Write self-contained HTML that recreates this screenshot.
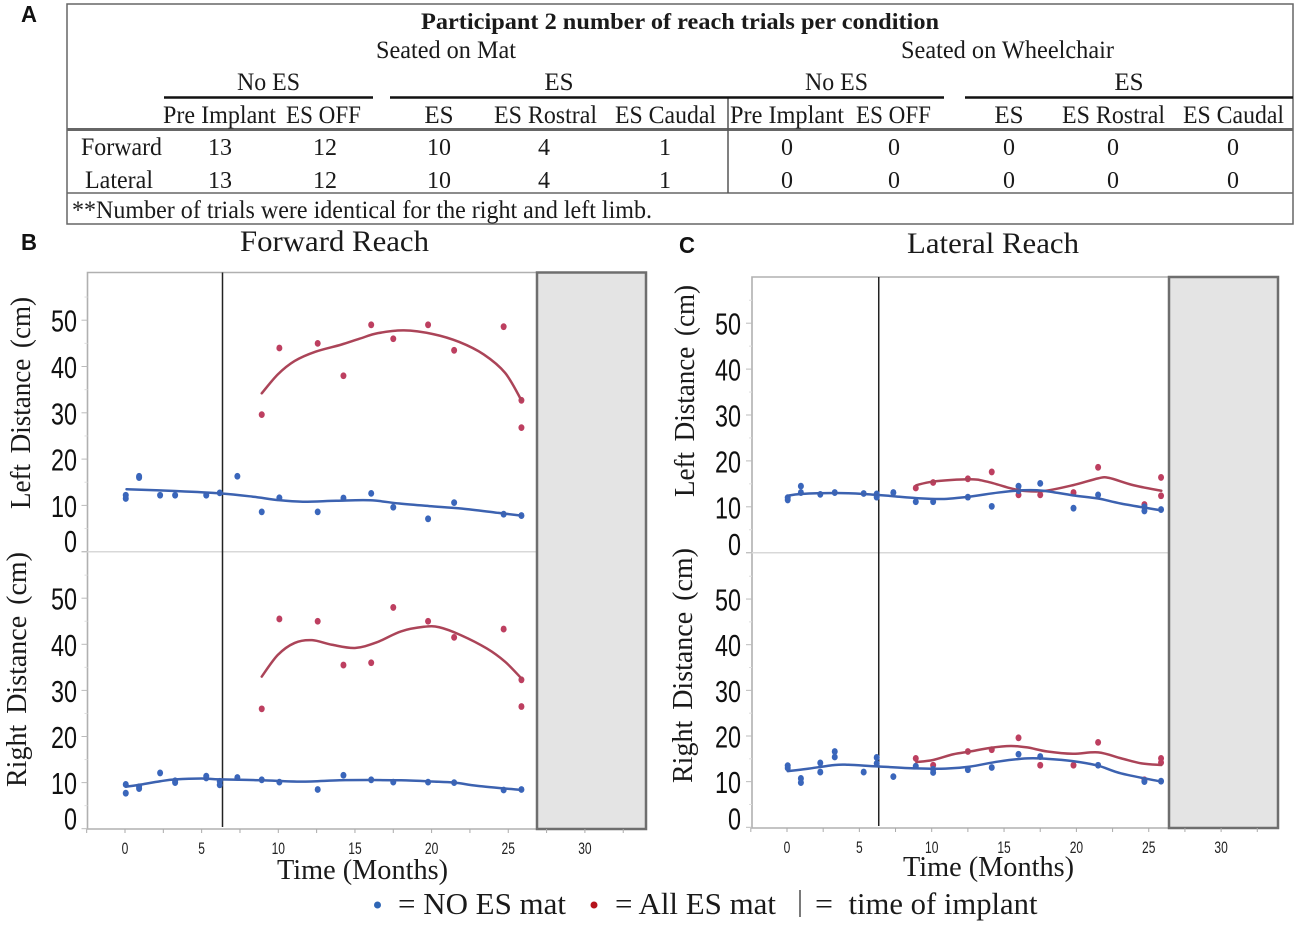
<!DOCTYPE html>
<html lang="en">
<head>
<meta charset="utf-8">
<title>Participant 2 reach trials</title>
<style>
html,body{margin:0;padding:0;background:#fff;width:1300px;height:926px;overflow:hidden}
svg{display:block;filter:blur(0.35px)}
.s{font-family:"Liberation Serif",serif;fill:#1a1a1a}
.t{font-size:25px}
.n{font-size:24px}
.c{text-anchor:middle}
.p{font-family:"Liberation Sans",sans-serif;fill:#111}
.w{word-spacing:4px}
</style>
</head>
<body>
<svg id="figure" xmlns="http://www.w3.org/2000/svg" width="1300" height="926" viewBox="0 0 1300 926">
  <rect x="0" y="0" width="1300" height="926" fill="#fff"/>

  <text class="p" x="21" y="22" font-size="23" font-weight="bold" textLength="16" lengthAdjust="spacingAndGlyphs">A</text>
  <text class="p" x="21" y="250" font-size="23" font-weight="bold" textLength="16" lengthAdjust="spacingAndGlyphs">B</text>
  <text class="p" x="679" y="253" font-size="23" font-weight="bold" textLength="16" lengthAdjust="spacingAndGlyphs">C</text>

  <g>
    <rect x="67" y="4" width="1226" height="220" fill="none" stroke="#666" stroke-width="1.5"/>
    <line x1="67" y1="129.5" x2="1293" y2="129.5" stroke="#666" stroke-width="3"/>
    <line x1="67" y1="193" x2="1293" y2="193" stroke="#666" stroke-width="1.5"/>
    <line x1="728" y1="97" x2="728" y2="193" stroke="#555" stroke-width="1.5"/>
    <line x1="164" y1="97.5" x2="373" y2="97.5" stroke="#111" stroke-width="2.5"/>
    <line x1="390" y1="97.5" x2="728" y2="97.5" stroke="#111" stroke-width="2.5"/>
    <line x1="728" y1="97.5" x2="944" y2="97.5" stroke="#111" stroke-width="2.5"/>
    <line x1="965" y1="97.5" x2="1293" y2="97.5" stroke="#111" stroke-width="2.5"/>

    <text class="s" x="421" y="29" font-size="23" font-weight="bold" textLength="518" lengthAdjust="spacingAndGlyphs">Participant 2 number of reach trials per condition</text>
    <text class="s t" x="376" y="58" textLength="140" lengthAdjust="spacingAndGlyphs">Seated on Mat</text>
    <text class="s t" x="901" y="58" textLength="213" lengthAdjust="spacingAndGlyphs">Seated on Wheelchair</text>
    <text class="s t" x="237" y="90" textLength="63" lengthAdjust="spacingAndGlyphs">No ES</text>
    <text class="s t c" x="559" y="90">ES</text>
    <text class="s t" x="805" y="90" textLength="63" lengthAdjust="spacingAndGlyphs">No ES</text>
    <text class="s t c" x="1129" y="90">ES</text>

    <text class="s t" x="163" y="123" textLength="113" lengthAdjust="spacingAndGlyphs">Pre Implant</text>
    <text class="s t" x="286" y="123" textLength="75" lengthAdjust="spacingAndGlyphs">ES OFF</text>
    <text class="s t c" x="439" y="123">ES</text>
    <text class="s t" x="494" y="123" textLength="103" lengthAdjust="spacingAndGlyphs">ES Rostral</text>
    <text class="s t" x="615" y="123" textLength="101" lengthAdjust="spacingAndGlyphs">ES Caudal</text>
    <text class="s t" x="730" y="123" textLength="114" lengthAdjust="spacingAndGlyphs">Pre Implant</text>
    <text class="s t" x="856" y="123" textLength="75" lengthAdjust="spacingAndGlyphs">ES OFF</text>
    <text class="s t c" x="1009" y="123">ES</text>
    <text class="s t" x="1062" y="123" textLength="103" lengthAdjust="spacingAndGlyphs">ES Rostral</text>
    <text class="s t" x="1183" y="123" textLength="101" lengthAdjust="spacingAndGlyphs">ES Caudal</text>

    <text class="s t" x="81" y="155" textLength="81" lengthAdjust="spacingAndGlyphs">Forward</text>
    <text class="s t" x="85" y="188" textLength="68" lengthAdjust="spacingAndGlyphs">Lateral</text>

    <g class="s n c">
      <text x="220" y="155">13</text>
      <text x="325" y="155">12</text>
      <text x="439" y="155">10</text>
      <text x="544" y="155">4</text>
      <text x="665" y="155">1</text>
      <text x="787" y="155">0</text>
      <text x="894" y="155">0</text>
      <text x="1009" y="155">0</text>
      <text x="1113" y="155">0</text>
      <text x="1233" y="155">0</text>
    </g>
    <g class="s n c">
      <text x="220" y="188">13</text>
      <text x="325" y="188">12</text>
      <text x="439" y="188">10</text>
      <text x="544" y="188">4</text>
      <text x="665" y="188">1</text>
      <text x="787" y="188">0</text>
      <text x="894" y="188">0</text>
      <text x="1009" y="188">0</text>
      <text x="1113" y="188">0</text>
      <text x="1233" y="188">0</text>
    </g>
    <text class="s t" x="72" y="218" textLength="580" lengthAdjust="spacingAndGlyphs">**Number of trials were identical for the right and left limb.</text>
  </g>

  <text class="s" x="240" y="251" font-size="30" textLength="189" lengthAdjust="spacingAndGlyphs">Forward Reach</text>
  <text class="s" x="907" y="253" font-size="30" textLength="172" lengthAdjust="spacingAndGlyphs">Lateral Reach</text>

  <text class="s w" font-size="28" transform="translate(30,509) rotate(-90)" textLength="212" lengthAdjust="spacingAndGlyphs">Left Distance (cm)</text>
  <text class="s w" font-size="28" transform="translate(26,787) rotate(-90)" textLength="235" lengthAdjust="spacingAndGlyphs">Right Distance (cm)</text>
  <text class="s w" font-size="28" transform="translate(694,497) rotate(-90)" textLength="212" lengthAdjust="spacingAndGlyphs">Left Distance (cm)</text>
  <text class="s w" font-size="28" transform="translate(692,783) rotate(-90)" textLength="235" lengthAdjust="spacingAndGlyphs">Right Distance (cm)</text>

  <text class="s" x="277" y="879" font-size="29" textLength="171" lengthAdjust="spacingAndGlyphs">Time (Months)</text>
  <text class="s" x="903" y="876" font-size="29" textLength="171" lengthAdjust="spacingAndGlyphs">Time (Months)</text>

  <g id="forward-panel"></g>
  <g id="lateral-panel"></g>

  <g>
    <circle cx="377.5" cy="905" r="3.5" fill="#2f66b5"/>
    <text class="s" x="398" y="914" font-size="31" textLength="168" lengthAdjust="spacingAndGlyphs">= NO ES mat</text>
    <circle cx="594" cy="905" r="3.5" fill="#b5121b"/>
    <text class="s" x="615" y="914" font-size="31" textLength="161" lengthAdjust="spacingAndGlyphs">= All ES mat</text>
    <line x1="800" y1="890" x2="800" y2="917" stroke="#333" stroke-width="1.3"/>
    <text class="s" x="815" y="914" font-size="31" textLength="18" lengthAdjust="spacingAndGlyphs">=</text>
    <text class="s" x="848.5" y="914" font-size="31" textLength="189" lengthAdjust="spacingAndGlyphs">time of implant</text>
  </g>
</svg>

<script>
// Shared axis labels
const xTickLabels = ['0', '5', '10', '15', '20', '25', '30'];
const yTickLabels = ['0', '10', '20', '30', '40', '50'];

// Forward reach, left limb
const forwardLeftBlueMonths = [0.05, 0.05, 0.92, 0.92, 2.29, 3.27, 5.3, 6.18, 7.33, 8.92, 10.07, 12.57, 14.25, 16.06, 17.5, 19.77, 21.47, 24.7, 25.86];
const forwardLeftBlueCm = [12.2, 11.5, 16.3, 16.0, 12.2, 12.2, 12.2, 12.7, 16.3, 8.6, 11.65, 8.6, 11.6, 12.6, 9.6, 7.1, 10.6, 8.1, 7.8];
const forwardLeftRedMonths = [8.92, 10.07, 12.57, 14.25, 16.06, 17.5, 19.77, 21.47, 24.7, 25.86, 25.86];
const forwardLeftRedCm = [29.6, 44, 45, 38, 49, 46, 49, 43.5, 48.6, 32.7, 26.8];
const forwardLeftBlueFitMonths = [0.1, 3.27, 6.18, 8.3, 10, 11.6, 13.8, 16, 17.9, 19.85, 22, 24.3, 25.86];
const forwardLeftBlueFitCm = [13.5, 13.1, 12.6, 11.9, 11.15, 10.8, 11, 11.1, 10.4, 9.85, 9.3, 8.4, 7.8];
const forwardLeftRedFitMonths = [8.92, 9.97, 11.07, 12.43, 14.08, 15.3, 16.5, 18.2, 20.1, 21.8, 23.4, 24.8, 25.86];
const forwardLeftRedFitCm = [34.2, 38.3, 41.2, 43.2, 44.7, 46, 47.2, 47.8, 47, 45.3, 42.6, 38.6, 32.7];

// Forward reach, right limb
const forwardRightBlueMonths = [0.05, 0.05, 0.92, 0.92, 2.29, 3.27, 3.27, 5.3, 5.3, 6.18, 6.18, 7.33, 8.92, 10.07, 12.57, 14.25, 16.06, 17.5, 19.77, 21.47, 24.7, 25.86];
const forwardRightBlueCm = [9.6, 7.7, 9.1, 8.7, 12.1, 10.4, 10, 11.4, 11, 10.3, 9.5, 11.1, 10.6, 10.1, 8.5, 11.6, 10.6, 10.1, 10.1, 10, 8.4, 8.5];
const forwardRightRedMonths = [8.92, 10.07, 12.57, 14.25, 16.06, 17.5, 19.77, 21.47, 24.7, 25.86, 25.86];
const forwardRightRedCm = [26, 45.5, 45, 35.5, 36, 48, 45, 41.5, 43.3, 32.3, 26.5];
const forwardRightBlueFitMonths = [0.05, 0.9, 2.3, 3.3, 5, 6.2, 8.9, 11.5, 14, 16, 18, 20, 21.5, 23, 25.86];
const forwardRightBlueFitCm = [9.1, 9.5, 10.3, 10.7, 10.9, 10.7, 10.5, 10.2, 10.5, 10.55, 10.5, 10.25, 10, 9.3, 8.4];
const forwardRightRedFitMonths = [8.92, 9.97, 11.07, 12.2, 13.5, 15, 16.4, 18, 19.5, 20.5, 21.9, 23.6, 24.8, 25.86];
const forwardRightRedFitCm = [33, 37.7, 40.3, 40.9, 39.9, 39.2, 40.4, 42.8, 43.8, 43.7, 42, 39.1, 36.2, 32.6];

// Lateral reach, left limb
const lateralLeftBlueMonths = [0.05, 0.05, 0.96, 0.96, 2.3, 3.3, 5.3, 6.2, 6.2, 7.35, 8.9, 10.1, 12.5, 14.15, 16, 16, 17.5, 19.8, 21.5, 24.7, 24.7, 25.85];
const lateralLeftBlueCm = [12, 11.5, 14.5, 13.1, 12.7, 13.1, 12.9, 12.8, 12.1, 13.1, 11.1, 11.1, 12.1, 10.1, 14.5, 13.5, 15.1, 9.7, 12.6, 10, 9.1, 9.4];
const lateralLeftRedMonths = [8.9, 10.1, 12.5, 14.15, 16, 17.5, 19.8, 21.5, 24.7, 25.85, 25.85];
const lateralLeftRedCm = [14.1, 15.3, 16.1, 17.6, 12.6, 12.6, 13.1, 18.6, 10.5, 16.4, 12.4];
const lateralLeftBlueFitMonths = [0.05, 0.96, 3.35, 5.3, 7.35, 8.94, 10.7, 12.57, 14.6, 16.3, 17.7, 19.75, 21.5, 23.1, 25.87];
const lateralLeftBlueFitCm = [12.4, 12.8, 13, 12.8, 12.3, 11.9, 11.7, 12.2, 13.1, 13.6, 13.5, 12.5, 11.8, 10.7, 9.2];
const lateralLeftRedFitMonths = [8.94, 10.1, 12.57, 13.8, 15.5, 16.3, 17.7, 19.75, 21.5, 22.25, 23.95, 25.87];
const lateralLeftRedFitCm = [14.7, 15.5, 16, 15.5, 14, 13.5, 13.4, 14.7, 16.2, 16.3, 14.7, 13.5];

// Lateral reach, right limb
const lateralRightBlueMonths = [0.05, 0.05, 0.96, 0.96, 2.3, 2.3, 3.3, 3.3, 5.3, 6.2, 6.2, 7.35, 8.9, 10.1, 10.1, 12.5, 14.15, 16, 17.5, 21.5, 24.7, 25.85];
const lateralRightBlueCm = [13.5, 13, 10.7, 9.8, 14.1, 12.1, 16.6, 15.4, 12.1, 15.3, 14, 11.1, 13.4, 12.7, 12, 12.6, 13.1, 16, 15.5, 13.6, 10, 10.1];
const lateralRightRedMonths = [8.9, 10.1, 12.5, 14.15, 16, 17.5, 19.8, 21.5, 24.7, 25.85, 25.85];
const lateralRightRedCm = [15.1, 13.6, 16.6, 17, 19.6, 13.6, 13.6, 18.6, 10.4, 15.1, 14.2];
const lateralRightBlueFitMonths = [0.05, 1.38, 3.3, 4.25, 6.2, 8.94, 10.95, 12.65, 14.6, 16.6, 18, 19.75, 21.5, 23.1, 25.87];
const lateralRightBlueFitCm = [12.3, 12.8, 13.65, 13.7, 13.35, 12.9, 12.85, 13.3, 14.4, 15.1, 15, 14.5, 13.5, 11.8, 10];
const lateralRightRedFitMonths = [8.94, 10.1, 11.5, 12.65, 14.05, 15.45, 16.6, 18, 19.75, 21.5, 23.1, 24.5, 25.87];
const lateralRightRedFitCm = [14.3, 14.75, 16, 16.6, 17.4, 17.8, 17.5, 16.6, 16.1, 16.4, 15.1, 14, 13.65];

// Implant time (months)
const forwardImplantMonth = 6.36;
const lateralImplantMonth = 6.34;

const SVGNS = 'http://www.w3.org/2000/svg';

function mk(tag, attrs, parent) {
  const el = document.createElementNS(SVGNS, tag);
  for (const k in attrs) el.setAttribute(k, attrs[k]);
  parent.appendChild(el);
  return el;
}

function smoothPath(xs, ys) {
  let d = 'M' + xs[0].toFixed(2) + ' ' + ys[0].toFixed(2);
  for (let i = 0; i < xs.length - 1; i++) {
    const i0 = Math.max(i - 1, 0), i3 = Math.min(i + 2, xs.length - 1);
    const c1x = xs[i] + (xs[i + 1] - xs[i0]) / 6, c1y = ys[i] + (ys[i + 1] - ys[i0]) / 6;
    const c2x = xs[i + 1] - (xs[i3] - xs[i]) / 6, c2y = ys[i + 1] - (ys[i3] - ys[i]) / 6;
    d += 'C' + c1x.toFixed(2) + ' ' + c1y.toFixed(2) + ' ' + c2x.toFixed(2) + ' ' + c2y.toFixed(2) + ' ' + xs[i + 1].toFixed(2) + ' ' + ys[i + 1].toFixed(2);
  }
  return d;
}

function drawFit(g, months, cm, xAxis, yAxis, color) {
  const path = mk('path', { d: smoothPath(months.map(xAxis), cm.map(yAxis)), fill: 'none', stroke: color, 'stroke-width': 2.5, 'stroke-linecap': 'round' }, g);
  
  
}

function drawPoints(g, months, cm, xAxis, yAxis, color) {
  months.forEach(function (m, i) {
    const dot = mk('ellipse', { cx: xAxis(m), cy: yAxis(cm[i]), rx: 3, ry: 3.4, fill: color }, g);
    
    
  });
}

function drawYAxis(g, box, yAxis, zeroShift) {
  for (let v = 0; v <= 55; v += 5) {
    const major = v % 10 === 0;
    const tick = mk('line', { x1: major ? box.left - 6 : box.left - 3, x2: box.left, y1: yAxis(v), y2: yAxis(v), stroke: major ? '#bbb' : '#ddd', 'stroke-width': 1 }, g);
    
    
  }
  yTickLabels.forEach(function (label) {
    const v = Number(label);
    const t = mk('text', { x: box.labelRight, y: yAxis(v) + (v === 0 ? zeroShift : 0) + 11.5, 'text-anchor': 'end', 'font-size': 31, textLength: label.length * 13, lengthAdjust: 'spacingAndGlyphs', 'font-family': '"Liberation Sans", sans-serif', fill: '#111' }, g);
    
    
    t.textContent = label;
  });
}

function drawPanel(g, box, upper, lower, implantMonth) {
  const xAxis = function (m) { return box.xOrigin + m * box.xPerMonth; };
  const yUpper = function (v) { return box.upperZero - v * box.upperPerCm; };
  const yLower = function (v) { return box.lowerZero - v * box.lowerPerCm; };

  const frame = mk('path', { d: 'M' + box.grayLeft + ' ' + box.top + 'H' + box.left + 'V' + box.bottom + 'H' + box.grayLeft, fill: 'none', stroke: '#b0b0b0', 'stroke-width': 1.6 }, g);
  
  

  const divider = mk('line', { x1: box.left - 6, x2: box.grayLeft, y1: box.upperZero, y2: box.upperZero, stroke: '#d8d8d8', 'stroke-width': 1.5 }, g);
  
  

  const gray = mk('rect', { x: box.grayLeft, y: box.top, width: box.grayRight - box.grayLeft, height: box.bottom - box.top, fill: '#e4e4e4', stroke: '#6e6e6e', 'stroke-width': 2.5 }, g);
  
  

  for (let m = -2.5; m <= 32.5; m += 2.5) {
    const tick = mk('line', { x1: xAxis(m), x2: xAxis(m), y1: box.bottom, y2: box.bottom + 4, stroke: '#aaa', 'stroke-width': 1 }, g);
    
    
  }
  xTickLabels.forEach(function (label) {
    const t = mk('text', { x: xAxis(Number(label)), y: box.xLabelBaseline, 'text-anchor': 'middle', 'font-size': 16.5, textLength: label.length * 6.7, lengthAdjust: 'spacingAndGlyphs', 'font-family': '"Liberation Sans", sans-serif', fill: '#222' }, g);
    
    
    t.textContent = label;
  });

  drawYAxis(g, box, yUpper, box.upperZeroShift);
  drawYAxis(g, box, yLower, box.lowerZeroShift);

  const implant = mk('line', { x1: xAxis(implantMonth), x2: xAxis(implantMonth), y1: box.top, y2: box.bottom - 2, stroke: '#222', 'stroke-width': 1.5 }, g);
  
  

  const BLUE = '#3a66bb', RED = '#bd3f60', BLUE_LINE = '#3c62b0', RED_LINE = '#ab4458';
  drawPoints(g, upper.redM, upper.redV, xAxis, yUpper, RED);
  drawPoints(g, upper.blueM, upper.blueV, xAxis, yUpper, BLUE);
  drawFit(g, upper.redFitM, upper.redFitV, xAxis, yUpper, RED_LINE);
  drawFit(g, upper.blueFitM, upper.blueFitV, xAxis, yUpper, BLUE_LINE);
  drawPoints(g, lower.redM, lower.redV, xAxis, yLower, RED);
  drawPoints(g, lower.blueM, lower.blueV, xAxis, yLower, BLUE);
  drawFit(g, lower.redFitM, lower.redFitV, xAxis, yLower, RED_LINE);
  drawFit(g, lower.blueFitM, lower.blueFitV, xAxis, yLower, BLUE_LINE);
}

drawPanel(document.getElementById('forward-panel'),
  { xOrigin: 125, xPerMonth: 15.33, upperZero: 551.7, upperPerCm: 4.63, lowerZero: 828.7, lowerPerCm: 4.61, left: 87.5, top: 272.5, bottom: 829, grayLeft: 537, grayRight: 646, labelRight: 77, xLabelBaseline: 854, upperZeroShift: -11, lowerZeroShift: -10.5 },
  { blueM: forwardLeftBlueMonths, blueV: forwardLeftBlueCm, redM: forwardLeftRedMonths, redV: forwardLeftRedCm, blueFitM: forwardLeftBlueFitMonths, blueFitV: forwardLeftBlueFitCm, redFitM: forwardLeftRedFitMonths, redFitV: forwardLeftRedFitCm },
  { blueM: forwardRightBlueMonths, blueV: forwardRightBlueCm, redM: forwardRightRedMonths, redV: forwardRightRedCm, blueFitM: forwardRightBlueFitMonths, blueFitV: forwardRightBlueFitCm, redFitM: forwardRightRedFitMonths, redFitV: forwardRightRedFitCm },
  forwardImplantMonth);

drawPanel(document.getElementById('lateral-panel'),
  { xOrigin: 787, xPerMonth: 14.47, upperZero: 552.7, upperPerCm: 4.59, lowerZero: 827.3, lowerPerCm: 4.565, left: 752, top: 277, bottom: 828, grayLeft: 1169, grayRight: 1278, labelRight: 741, xLabelBaseline: 853, upperZeroShift: -9, lowerZeroShift: -9.5 },
  { blueM: lateralLeftBlueMonths, blueV: lateralLeftBlueCm, redM: lateralLeftRedMonths, redV: lateralLeftRedCm, blueFitM: lateralLeftBlueFitMonths, blueFitV: lateralLeftBlueFitCm, redFitM: lateralLeftRedFitMonths, redFitV: lateralLeftRedFitCm },
  { blueM: lateralRightBlueMonths, blueV: lateralRightBlueCm, redM: lateralRightRedMonths, redV: lateralRightRedCm, blueFitM: lateralRightBlueFitMonths, blueFitV: lateralRightBlueFitCm, redFitM: lateralRightRedFitMonths, redFitV: lateralRightRedFitCm },
  lateralImplantMonth);
</script>
</body>
</html>
